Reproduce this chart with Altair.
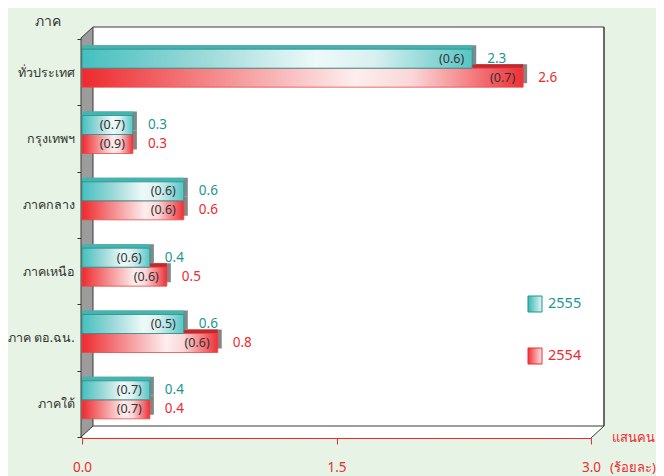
import altair as alt
import pandas as pd

regions = ["ทั่วประเทศ", "กรุงเทพฯ", "ภาคกลาง", "ภาคเหนือ", "ภาค ตอ.ฉน.", "ภาคใต้"]
v2555 = [2.3, 0.3, 0.6, 0.4, 0.6, 0.4]
v2554 = [2.6, 0.3, 0.6, 0.5, 0.8, 0.4]
p2555 = [0.6, 0.7, 0.6, 0.6, 0.5, 0.7]
p2554 = [0.7, 0.9, 0.6, 0.6, 0.6, 0.7]
x_ticks = [0.0, 1.5, 3.0]
series = ["2555", "2554"]

FONT = "Liberation Sans Narrow, Noto Sans, sans-serif"
TEAL = "#1c9690"
RED = "#ee2b30"
BG = "#e7f3e4"

def frame(vals, pcts):
    return pd.DataFrame({
        "region": regions,
        "value": vals,
        "pct": [f"({p:.1f})" for p in pcts],
        "label": [f"{v:.1f}" for v in vals],
    })

df55 = frame(v2555, p2555)
df54 = frame(v2554, p2554)
one = pd.DataFrame({"a": [0]})

X = alt.X("value:Q", scale=alt.Scale(domain=[0, 3], nice=False, zero=True),
          axis=alt.Axis(values=x_ticks, format=".1f", title=None, grid=False,
                        domainColor=RED, tickColor=RED, tickSize=6, labelColor=RED,
                        labelFont=FONT, labelFontSize=13.5, labelPadding=16,
                        labelFlush=False, offset=1, zindex=2))
Y = alt.Y("region:N", sort=regions,
          scale=alt.Scale(domain=regions, paddingInner=0, paddingOuter=0),
          axis=alt.Axis(title=None, domain=False, tickBand="extent", tickColor="#333333",
                        tickSize=5, labelPadding=3, labelColor="#333333",
                        labelFont=FONT, labelFontSize=12.5))

def grad(stops):
    return alt.Gradient(gradient="linear", x1=0, x2=1, y1=0, y2=0,
                        stops=[alt.GradientStop(offset=o, color=c) for o, c in stops])

teal_grad = grad([(0, "#45bfbf"), (0.3, "#9ad8d8"), (0.6, "#eef9f9"), (0.75, "#d8f0f0"), (1, "#58c4c4")])
red_grad = grad([(0, "#ee2a2e"), (0.3, "#f48a8c"), (0.62, "#fdeeee"), (0.75, "#fad6d7"), (1, "#ee3036")])

BAR = 19
OFF = {"2555": -13.5, "2554": 5.5}
D = 4

def bar_layers(df, s, front, top, side, stroke, vcolor):
    base = alt.Chart(df)
    yo = OFF[s]
    shadow = base.mark_bar(size=BAR, color=side, xOffset=D, yOffset=yo - D).encode(x=X, y=Y)
    topf = base.mark_bar(size=BAR, color=top, yOffset=yo - D).encode(x=X, y=Y)
    face = base.mark_bar(size=BAR, color=front, stroke=stroke, strokeWidth=0.8,
                         yOffset=yo).encode(x=X, y=Y)
    inner = base.mark_text(align="right", baseline="middle", dx=-8, yOffset=yo,
                           font=FONT, fontSize=12.5, color="#333333").encode(x=X, y=Y, text="pct:N")
    outer = base.mark_text(align="left", baseline="middle", dx=15, yOffset=yo,
                           font=FONT, fontSize=13.5, color=vcolor).encode(x=X, y=Y, text="label:N")
    return [shadow, topf, face, inner, outer]

deco = alt.Chart(one)
back = deco.mark_rect(fill="white").encode(
    x=alt.value(11), x2=alt.value(522), y=alt.value(-12), y2=alt.value(387))

floor_path = "M-0.998,0.019 L-0.952,-0.0229 L0.998,-0.0229 L0.948,0.0229 Z"
floor = deco.mark_point(shape=floor_path, filled=True, fill="white", strokeWidth=0,
                        opacity=1, size=274576).encode(x=alt.value(260.5), y=alt.value(393))

wall_path = "M-0.02927,-0.94634 L0.02927,-1 L0.02927,0.94634 L-0.02927,1 Z"
wall = deco.mark_point(shape=wall_path, filled=True, fill="#9c9c9c", stroke="#3a3a3a",
                       strokeWidth=1, opacity=1, size=168100).encode(x=alt.value(5), y=alt.value(193))

def rule(x1, y1, x2, y2, color="#3a3a3a", w=1.0):
    return deco.mark_rule(color=color, strokeWidth=w).encode(
        x=alt.value(x1), y=alt.value(y1), x2=alt.value(x2), y2=alt.value(y2))

lines = [
    rule(11, -12, 522, -12),
    rule(522, -12, 522, 387, w=1.5),
    rule(11, 387, 522, 387),
    rule(522, 387, 509, 399),
]

def text(t, x, y, color, size=13.5, align="center"):
    return deco.mark_text(text=t, align=align, baseline="middle", font=FONT,
                          fontSize=size, color=color).encode(x=alt.value(x), y=alt.value(y))

leg_teal = deco.mark_rect(color=grad([(0, "#3ab6b6"), (1, "#e4f5f5")]), stroke=TEAL, strokeWidth=1).encode(
    x=alt.value(446), x2=alt.value(460), y=alt.value(257), y2=alt.value(273))
leg_red = deco.mark_rect(color=grad([(0, "#ee3035"), (1, "#fde6e6")]), stroke=RED, strokeWidth=1).encode(
    x=alt.value(446), x2=alt.value(460), y=alt.value(309), y2=alt.value(325))

layers = [back, floor, wall] + lines
layers += bar_layers(df54, "2554", red_grad, "#c7262b", "#8c8282", "#e8474a", RED)
layers += bar_layers(df55, "2555", teal_grad, "#45b3ae", "#7c8a89", "#23928c", TEAL)
layers += [
    leg_teal, leg_red,
    text("2555", 466, 265, TEAL, 14.5, "left"),
    text("2554", 466, 317, RED, 14.5, "left"),
    text("ภาค", -34, -17, "#333333", 14),
    text("แสนคน", 551, 399, RED, 13),
    text("(ร้อยละ)", 551, 429, RED, 13),
]

chart = alt.layer(*layers).properties(
    width=509, height=398,
    padding={"left": 74, "top": 31, "right": 65, "bottom": 40},
    autosize=alt.AutoSizeParams(type="none"),
    background=BG,
).configure_view(stroke=None)

chart.save("out.html", embed_options={"renderer": "svg", "actions": False})
